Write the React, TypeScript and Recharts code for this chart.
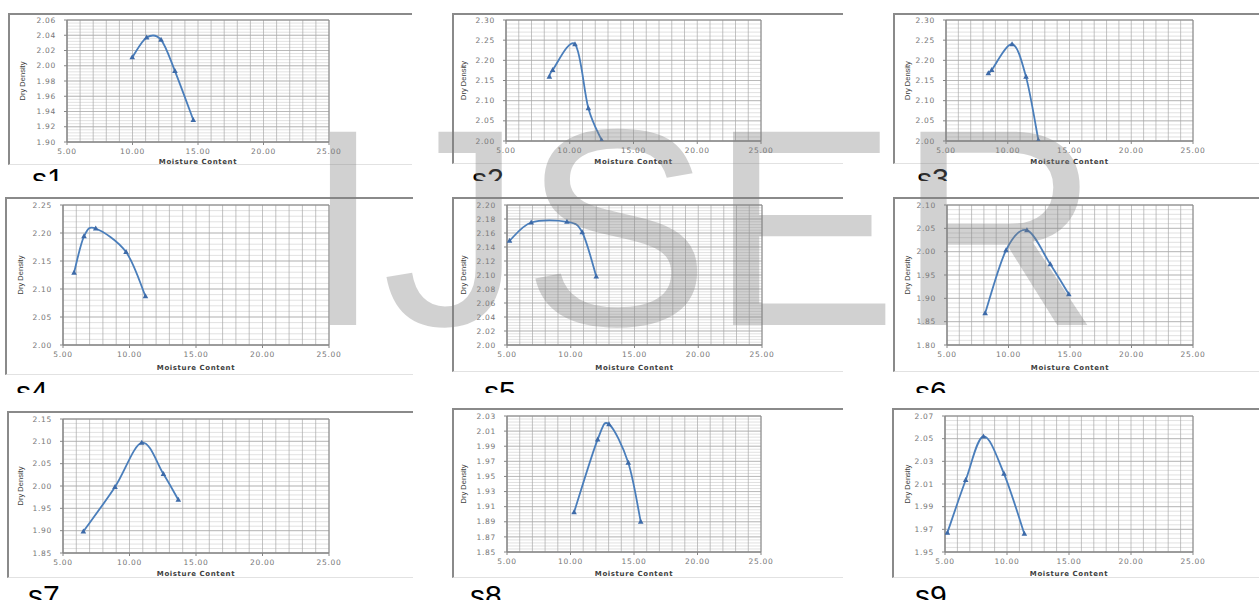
import React from 'react';
import { LineChart, Line, XAxis, YAxis, CartesianGrid, ReferenceArea } from 'recharts';

// ---------- data ----------
const xTicks = [5, 10, 15, 20, 25];
const xGrid = [5, 6, 7, 8, 9, 10, 11, 12, 13, 14, 15, 16, 17, 18, 19, 20, 21, 22, 23, 24, 25];

const s1Moisture = [9.98, 11.08, 12.18, 13.24, 14.64];
const s1Density = [2.011, 2.037, 2.034, 1.993, 1.929];
const s1Ticks = [1.9, 1.92, 1.94, 1.96, 1.98, 2.0, 2.02, 2.04, 2.06];

const s2Moisture = [8.4, 8.66, 10.41, 11.46, 12.5];
const s2Density = [2.159, 2.176, 2.24, 2.081, 2.002];
const s2Ticks = [2.0, 2.05, 2.1, 2.15, 2.2, 2.25, 2.3];

const s3Moisture = [8.43, 8.7, 10.35, 11.48, 12.48];
const s3Density = [2.168, 2.176, 2.24, 2.159, 2.002];
const s3Ticks = [2.0, 2.05, 2.1, 2.15, 2.2, 2.25, 2.3];

const s4Moisture = [5.83, 6.58, 7.46, 9.74, 11.2];
const s4Density = [2.129, 2.194, 2.208, 2.166, 2.087];
const s4Ticks = [2.0, 2.05, 2.1, 2.15, 2.2, 2.25];

const s5Moisture = [5.2, 6.9, 9.7, 10.9, 12.0];
const s5Density = [2.149, 2.175, 2.176, 2.161, 2.098];
const s5Ticks = [2.0, 2.02, 2.04, 2.06, 2.08, 2.1, 2.12, 2.14, 2.16, 2.18, 2.2];

const s6Moisture = [8.1, 9.8, 11.5, 13.4, 14.9];
const s6Density = [1.868, 2.003, 2.046, 1.973, 1.909];
const s6Ticks = [1.8, 1.85, 1.9, 1.95, 2.0, 2.05, 2.1];

const s7Moisture = [6.53, 8.91, 10.92, 12.55, 13.67];
const s7Density = [1.898, 1.998, 2.097, 2.027, 1.969];
const s7Ticks = [1.85, 1.9, 1.95, 2.0, 2.05, 2.1, 2.15];

const s8Moisture = [10.28, 12.14, 13.03, 14.55, 15.53];
const s8Density = [1.9025, 1.999, 2.019, 1.968, 1.89];
const s8Ticks = [1.85, 1.87, 1.89, 1.91, 1.93, 1.95, 1.97, 1.99, 2.01, 2.03];

const s9Moisture = [5.19, 6.67, 8.1, 9.76, 11.4];
const s9Density = [1.967, 2.0135, 2.052, 2.019, 1.966];
const s9Ticks = [1.95, 1.97, 1.99, 2.01, 2.03, 2.05, 2.07];

const seriesNames = ['s1', 's2', 's3', 's4', 's5', 's6', 's7', 's8', 's9'];
const xTitle = 'Moisture Content';
const yTitle = 'Dry Density';

// ---------- layout (page pixels) ----------
type Box = { l: number; t: number; r: number; b: number };
type Layout = { plot: Box; frame: Box; label: { x: number; capTop: number; clip: number }; yGap: number; xDy: number };

const layouts: Layout[] = [
  { plot: { l: 67, t: 20, r: 329, b: 142 }, frame: { l: 8, t: 13, r: 412, b: 165 }, label: { x: 32, capTop: 168, clip: 181 }, yGap: 45, xDy: 20 },
  { plot: { l: 506, t: 20, r: 761, b: 141 }, frame: { l: 452, t: 13, r: 843, b: 164 }, label: { x: 472, capTop: 168, clip: 181 }, yGap: 43, xDy: 21 },
  { plot: { l: 946, t: 20, r: 1193, b: 141 }, frame: { l: 893, t: 13, r: 1259, b: 164 }, label: { x: 917, capTop: 168, clip: 181 }, yGap: 39, xDy: 21 },
  { plot: { l: 63, t: 205, r: 329, b: 345 }, frame: { l: 5, t: 197, r: 413, b: 375 }, label: { x: 16, capTop: 381, clip: 393 }, yGap: 43, xDy: 23 },
  { plot: { l: 507, t: 205, r: 762, b: 345 }, frame: { l: 452, t: 197, r: 843, b: 372 }, label: { x: 484, capTop: 381, clip: 393 }, yGap: 44, xDy: 23 },
  { plot: { l: 947, t: 205, r: 1193, b: 345 }, frame: { l: 893, t: 197, r: 1259, b: 372 }, label: { x: 915, capTop: 381, clip: 393 }, yGap: 40, xDy: 23 },
  { plot: { l: 63, t: 419, r: 329, b: 553 }, frame: { l: 7, t: 411, r: 413, b: 578 }, label: { x: 28, capTop: 585, clip: 600 }, yGap: 43, xDy: 21 },
  { plot: { l: 507, t: 416, r: 761, b: 552 }, frame: { l: 452, t: 408, r: 843, b: 578 }, label: { x: 470, capTop: 585, clip: 600 }, yGap: 44, xDy: 22 },
  { plot: { l: 945, t: 416, r: 1193, b: 552 }, frame: { l: 892, t: 408, r: 1259, b: 578 }, label: { x: 915, capTop: 585, clip: 600 }, yGap: 38, xDy: 22 },
];

const allX = [s1Moisture, s2Moisture, s3Moisture, s4Moisture, s5Moisture, s6Moisture, s7Moisture, s8Moisture, s9Moisture];
const allY = [s1Density, s2Density, s3Density, s4Density, s5Density, s6Density, s7Density, s8Density, s9Density];
const allTicks = [s1Ticks, s2Ticks, s3Ticks, s4Ticks, s5Ticks, s6Ticks, s7Ticks, s8Ticks, s9Ticks];

// ---------- helpers ----------
const LINE_COLOR = '#4a7ebb';
const fmt = (v: number) => Number(v).toFixed(2);

const excelSmooth: any = (context: any) => {
  let pts: number[][] = [];
  return {
    areaStart() {},
    areaEnd() {},
    lineStart() {
      pts = [];
    },
    point(x: number, y: number) {
      pts.push([+x, +y]);
    },
    lineEnd() {
      if (!pts.length) return;
      context.moveTo(pts[0][0], pts[0][1]);
      for (let i = 0; i < pts.length - 1; i++) {
        const p0 = pts[i - 1] || pts[i];
        const p1 = pts[i];
        const p2 = pts[i + 1];
        const p3 = pts[i + 2] || pts[i + 1];
        context.bezierCurveTo(
          p1[0] + (p2[0] - p0[0]) / 6,
          p1[1] + (p2[1] - p0[1]) / 6,
          p2[0] - (p3[0] - p1[0]) / 6,
          p2[1] - (p3[1] - p1[1]) / 6,
          p2[0],
          p2[1],
        );
      }
    },
  };
};

const scaleOf = (axis: any) => (v: number): number => {
  const s = axis && axis.scale;
  if (typeof s === 'function') return s(v);
  if (s && typeof s.map === 'function') return s.map(v);
  return NaN;
};

function Tri(props: any) {
  const { cx, cy } = props;
  if (typeof cx !== 'number' || typeof cy !== 'number') return <g />;
  return <path d={`M${cx},${cy - 3}L${cx + 2.8},${cy + 2}L${cx - 2.8},${cy + 2}Z`} fill="#3d6aa8" />;
}

const tickStyle = { fontSize: 7.5, fill: '#767676', fontFamily: '"DejaVu Sans", sans-serif', letterSpacing: 0.7 };

const RIGHT_PAD = 24;

function MiniChart({ idx }: { idx: number }) {
  const lay = layouts[idx];
  const xs = allX[idx];
  const ys = allY[idx];
  const ticks = allTicks[idx];
  const plotW = lay.plot.r - lay.plot.l;
  const plotH = lay.plot.b - lay.plot.t;
  const W = plotW + 60 + RIGHT_PAD;
  const H = plotH + 40;
  const data = xs.map((x, i) => ({ x, y: ys[i] }));
  const yMin = ticks[0];
  const yMax = ticks[ticks.length - 1];
  const step = (yMax - yMin) / (ticks.length - 1);
  const minor: number[] = [];
  for (let i = 0; i <= (ticks.length - 1) * 5; i++) minor.push(+(yMin + (i * step) / 5).toFixed(5));

  const genMinor = (g: any) => minor.map((v) => scaleOf(g.yAxis)(v)).filter((n) => Number.isFinite(n));
  const genMajorH = (g: any) => ticks.map((v) => scaleOf(g.yAxis)(v)).filter((n) => Number.isFinite(n));
  const genMajorV = (g: any) => xGrid.map((v) => scaleOf(g.xAxis)(v)).filter((n) => Number.isFinite(n));

  return (
    <div style={{ position: 'absolute', left: lay.plot.l - 60, top: lay.plot.t - 10, width: W, height: H }}>
      <LineChart width={W} height={H} data={data} margin={{ top: 10, right: RIGHT_PAD, bottom: 0, left: 0 }}>
        <CartesianGrid vertical={false} stroke="#cdcdcd" strokeWidth={0.6} horizontalCoordinatesGenerator={genMinor} />
        <CartesianGrid
          stroke="#a9a9a9"
          strokeWidth={0.7}
          horizontalCoordinatesGenerator={genMajorH}
          verticalCoordinatesGenerator={genMajorV}
        />
        <XAxis
          type="number"
          dataKey="x"
          domain={[5, 25]}
          ticks={xTicks}
          interval={0}
          allowDataOverflow
          tickFormatter={fmt}
          tickSize={3}
          tickMargin={4}
          height={30}
          axisLine={{ stroke: '#868686' }}
          tickLine={{ stroke: '#868686' }}
          tick={tickStyle}
          label={{
            content: (p: any) => {
              const vb = p.viewBox || {};
              return (
                <text
                  x={vb.x + vb.width / 2}
                  y={vb.y + lay.xDy}
                  textAnchor="middle"
                  dominantBaseline="central"
                  fontSize={7}
                  fontWeight="bold"
                  letterSpacing={0.6}
                  fill="#404040"
                  fontFamily='"DejaVu Sans", sans-serif'
                >
                  {xTitle}
                </text>
              );
            },
          }}
        />
        <YAxis
          type="number"
          domain={[yMin, yMax]}
          ticks={ticks}
          interval={0}
          allowDataOverflow
          tickFormatter={fmt}
          tickSize={3}
          tickMargin={8}
          width={60}
          axisLine={{ stroke: '#868686' }}
          tickLine={{ stroke: '#868686' }}
          tick={tickStyle}
          label={{
            content: (p: any) => {
              const vb = p.viewBox || {};
              const cx = vb.x + vb.width - lay.yGap;
              const cy = vb.y + vb.height / 2;
              return (
                <text
                  x={cx}
                  y={cy}
                  transform={`rotate(-90 ${cx} ${cy})`}
                  textAnchor="middle"
                  dominantBaseline="central"
                  fontSize={7.5}
                  fill="#404040"
                  fontFamily='"Liberation Sans Narrow", "Liberation Sans", sans-serif'
                >
                  {yTitle}
                </text>
              );
            },
          }}
        />
        <ReferenceArea x1={5} x2={25} y1={yMin} y2={yMax} fill="none" fillOpacity={0} stroke="#8a8a8a" strokeWidth={1} />
        <Line
          dataKey="y"
          type={excelSmooth}
          stroke={LINE_COLOR}
          strokeWidth={1.8}
          dot={(p: any) => <Tri key={`dot-${idx}-${p.index}`} cx={p.cx} cy={p.cy} />}
          activeDot={false}
          isAnimationActive={false}
        />
      </LineChart>
    </div>
  );
}

export default function App() {
  return (
    <div
      style={{
        position: 'absolute',
        left: 0,
        top: 0,
        width: 1259,
        height: 600,
        background: '#ffffff',
        overflow: 'hidden',
      }}
    >
      {layouts.map((lay, i) => (
        <div
          key={`frame-${i}`}
          style={{
            position: 'absolute',
            left: lay.frame.l,
            top: lay.frame.t,
            width: lay.frame.r - lay.frame.l,
            height: lay.frame.b - lay.frame.t,
            boxSizing: 'border-box',
            borderLeft: '2px solid #8a8a8a',
            borderTop: '2px solid #8a8a8a',
            borderBottom: '1px solid #e2e2e2',
          }}
        />
      ))}
      {layouts.map((_, i) => (
        <MiniChart key={`chart-${i}`} idx={i} />
      ))}
      {layouts.map((lay, i) => (
        <div
          key={`label-${i}`}
          style={{
            position: 'absolute',
            left: lay.label.x,
            top: lay.label.capTop - 4,
            height: lay.label.clip - (lay.label.capTop - 4),
            overflow: 'hidden',
            fontFamily: '"Liberation Sans", Arial, sans-serif',
            fontSize: 30,
            lineHeight: '30px',
            color: '#000',
            whiteSpace: 'nowrap',
          }}
        >
          {seriesNames[i]}
        </div>
      ))}
      <svg width={1259} height={600} style={{ position: 'absolute', left: 0, top: 0, pointerEvents: 'none' }}>
        <text x={304} y={325} fontFamily='"Liberation Sans", Arial, sans-serif' fontSize={281} fill="#7f7f7f" fillOpacity={0.36}>
          IJSER
        </text>
      </svg>
    </div>
  );
}
